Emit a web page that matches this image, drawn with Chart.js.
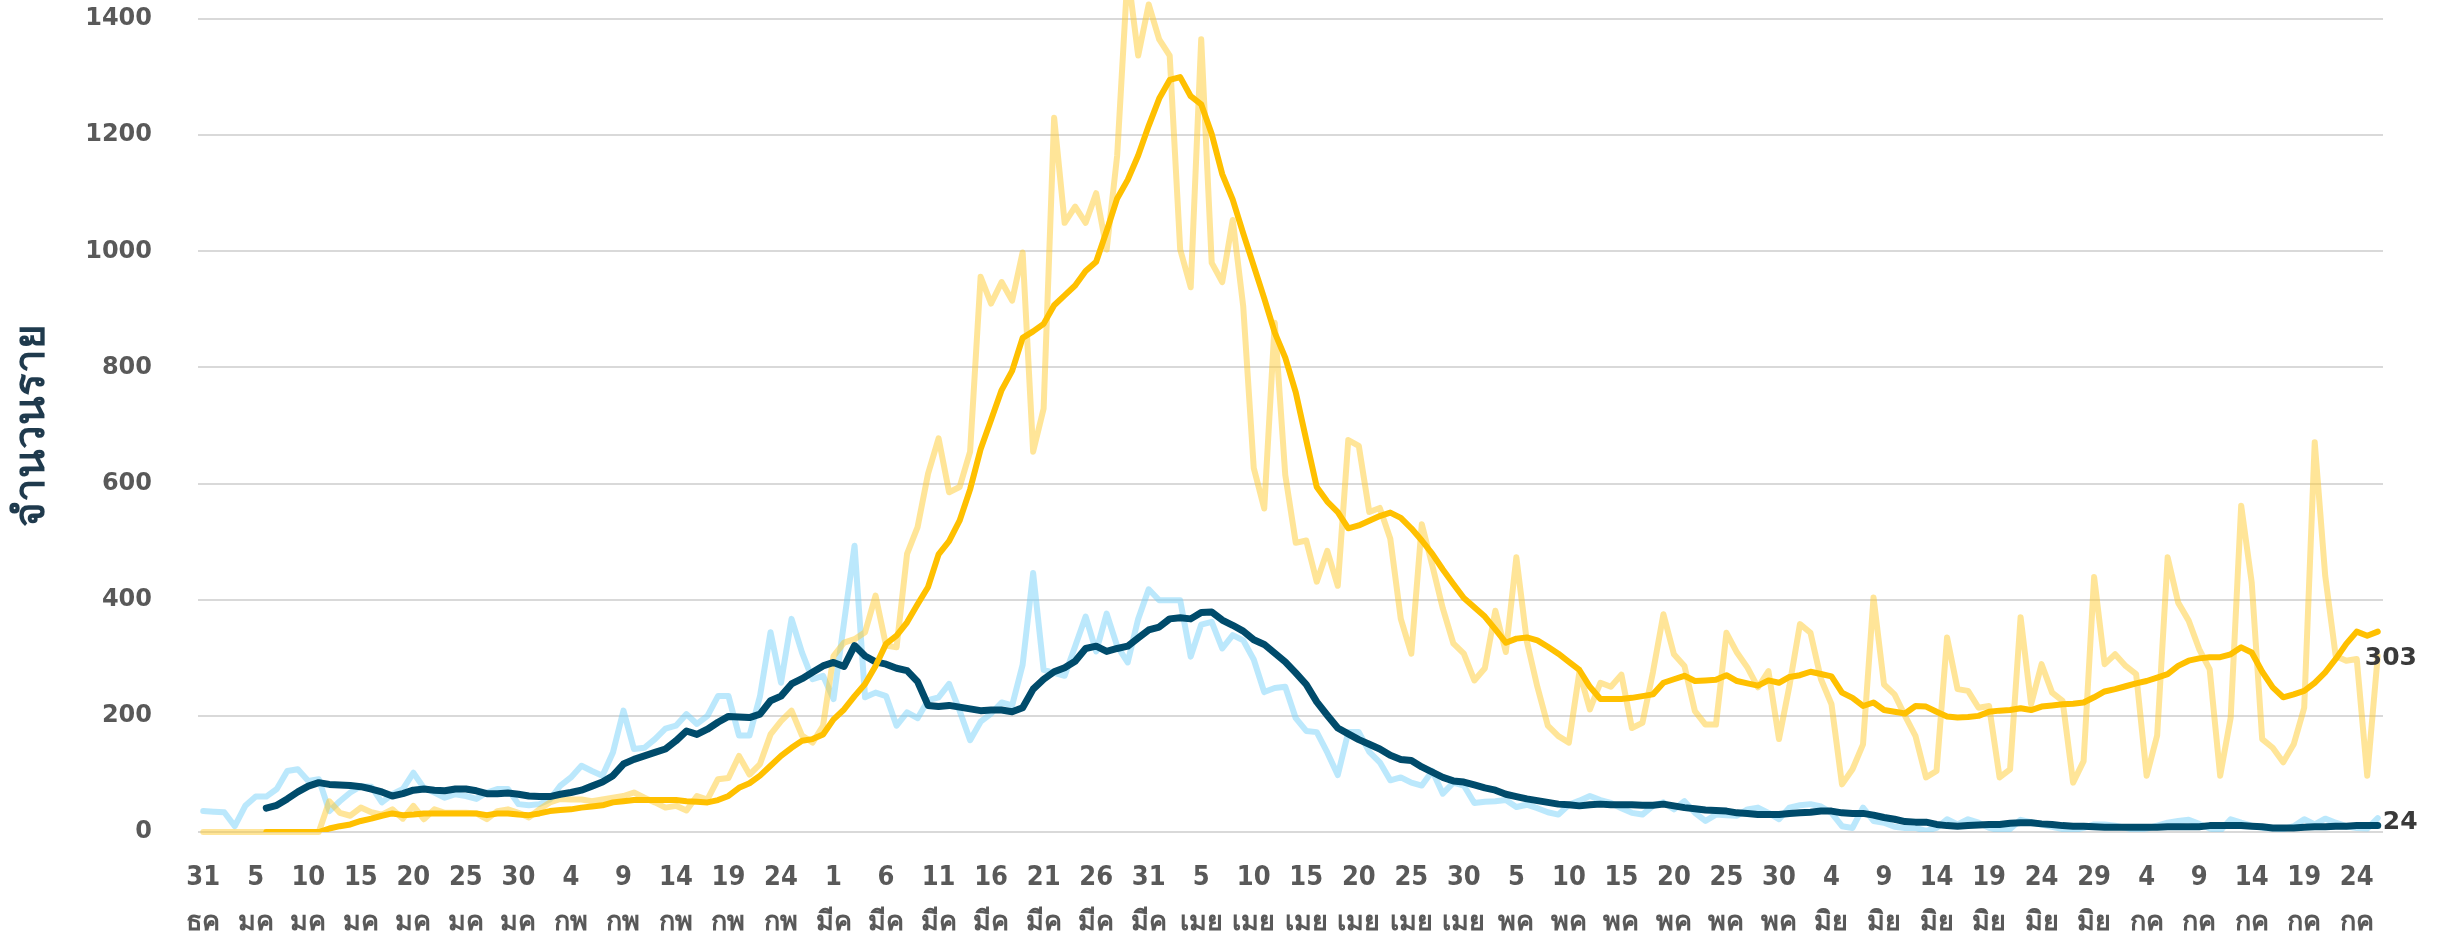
<!DOCTYPE html>
<html lang="th">
<head>
<meta charset="UTF-8">
<title>จำนวนราย</title>
<script src="https://cdn.jsdelivr.net/npm/chart.js"></script>
<style>
  body {
    margin: 0;
    background-color: #ffffff;
  }
  .chart-box {
    position: relative;
    width: 2443px;
    height: 937px;
  }
</style>
</head>
<body>
<div class="chart-box"><canvas id="casesChart"></canvas></div>
<script>
  // daily values, starting 31 Dec, one per day
  const blueDaily = [
    36, 35, 34, 10, 45, 61, 61, 74, 105, 108,
    88, 91, 36, 53, 68, 79, 78, 51, 65, 74,
    102, 76, 68, 59, 65, 62, 57, 68, 74, 74,
    48, 46, 48, 56, 80, 94, 114, 105, 97, 137,
    209, 143, 145, 160, 178, 183, 203, 186, 200, 234,
    234, 166, 166, 234, 344, 257, 367, 309, 263, 269,
    229, 361, 493, 232, 240, 234, 183, 206, 196, 227,
    232, 255, 209, 158, 190, 204, 223, 218, 288, 446,
    279, 274, 269, 320, 371, 311, 376, 320, 292, 367,
    418, 399, 399, 399, 302, 357, 362, 316, 339, 330,
    297, 241, 248, 250, 196, 174, 172, 137, 98, 172,
    172, 138, 120, 89, 94, 85, 80, 105, 66, 85,
    80, 50, 52, 53, 55, 43, 47, 41, 34, 30,
    47, 54, 62, 55, 50, 41, 33, 30, 45, 51,
    39, 53, 33, 19, 30, 29, 28, 39, 42, 33,
    22, 42, 46, 48, 44, 33, 10, 7, 42, 19,
    16, 9, 7, 7, 2, 7, 22, 13, 22, 16,
    7, 3, 5, 21, 17, 13, 9, 5, 3, 7,
    13, 13, 11, 7, 3, 6, 11, 16, 19, 21,
    14, 6, 2, 22, 16, 11, 7, 6, 5, 10,
    22, 13, 23, 16, 10, 7, 6, 24
  ];

  // 7-day average of the blue series
  const blueAvg = [
    null, null, null, null, null, null, 41, 46, 57, 69,
    79, 85, 82, 81, 80, 78, 74, 69, 62, 66,
    72, 74, 72, 71, 74, 74, 71, 66, 66, 67,
    65, 62, 61, 61, 65, 68, 72, 79, 86, 97,
    117, 125, 131, 137, 143, 157, 174, 168, 177, 189,
    199, 198, 197, 203, 226, 234, 255, 264, 275, 286,
    292, 285, 321, 303, 293, 289, 282, 278, 259, 218,
    216, 218, 215, 212, 209, 210, 210, 207, 214, 246,
    263, 276, 283, 294, 316, 320, 311, 316, 320, 334,
    348, 353, 367, 369, 367, 378, 379, 365, 356, 346,
    331, 323, 308, 293, 274, 254, 224, 201, 179, 169,
    159, 151, 143, 132, 125, 123, 112, 103, 94, 88,
    86, 81, 76, 72, 65, 61, 57, 54, 51, 48,
    47, 45, 47, 48, 47, 47, 47, 46, 46, 48,
    45, 42, 40, 38, 37, 36, 33, 32, 30, 30,
    30, 32, 33, 34, 36, 36, 33, 32, 32, 29,
    25, 22, 18, 17, 17, 13, 11, 10, 11, 12,
    13, 13, 15, 16, 16, 14, 13, 11, 10, 10,
    9, 8, 8, 8, 8, 8, 8, 9, 9, 9,
    9, 11, 11, 11, 11, 10, 9, 7, 7, 7,
    8, 9, 9, 10, 10, 11, 11, 11
  ];

  const goldDaily = [
    0, 0, 0, 0, 0, 0, 0, 0, 0, 0,
    0, 0, 53, 33, 28, 42, 34, 30, 39, 23,
    45, 22, 39, 33, 33, 33, 32, 22, 36, 39,
    33, 25, 39, 51, 57, 56, 56, 53, 56, 59,
    62, 68, 59, 51, 42, 45, 37, 62, 56, 91,
    93, 131, 99, 117, 168, 191, 209, 166, 154, 183,
    303, 326, 332, 344, 407, 321, 318, 479, 525, 617,
    678, 585, 594, 655, 956, 910, 947, 915, 998, 655,
    729, 1230, 1049, 1077, 1049, 1100, 1003, 1165, 1480, 1337,
    1425, 1365, 1337, 1003, 938, 1365, 980, 947, 1054, 905,
    627, 557, 877, 615, 498, 502, 431, 484, 424, 675,
    665, 551, 558, 505, 367, 307, 530, 459, 385, 325,
    307, 261, 282, 381, 310, 473, 328, 250, 183, 165,
    154, 275, 211, 257, 250, 271, 179, 188, 275, 375,
    306, 286, 208, 185, 185, 343, 309, 283, 249, 277,
    160, 252, 358, 343, 263, 220, 82, 108, 151, 404,
    254, 237, 200, 165, 94, 105, 335, 246, 243, 214,
    217, 94, 108, 370, 220, 289, 240, 226, 85, 122,
    439, 289, 306, 286, 272, 97, 166, 473, 395, 364,
    315, 280, 97, 197, 562, 430, 160, 145, 120, 151,
    214, 671, 441, 303, 295, 298, 97, 303
  ];

  const goldAvg = [
    null, null, null, null, null, null, 0, 0, 0, 0,
    0, 0, 6, 10, 13, 19, 23, 28, 32, 29,
    30, 32, 32, 32, 32, 32, 32, 29, 32, 32,
    30, 29, 32, 36, 38, 39, 42, 44, 46, 51,
    53, 55, 55, 55, 55, 55, 53, 52, 51, 55,
    62, 76, 84, 97, 114, 131, 145, 157, 160, 168,
    194, 211, 234, 255, 286, 324, 338, 361, 392, 422,
    478, 501, 536, 590, 659, 710, 761, 794, 851, 862,
    875, 907, 924, 941, 966, 982, 1035, 1091, 1123, 1165,
    1216, 1263, 1295, 1300, 1267, 1253, 1202, 1133, 1089, 1031,
    975, 919, 860, 817, 757, 675, 594, 569, 551, 523,
    528, 536, 544, 550, 541, 523, 502, 479, 452, 427,
    403, 387, 371, 349, 326, 333, 335, 330, 319, 307,
    293, 279, 250, 229, 229, 229, 231, 234, 237, 257,
    263, 269, 260, 261, 262, 270, 260, 256, 252, 261,
    257, 267, 270, 276, 272, 268, 240, 231, 217, 223,
    210, 207, 204, 217, 216, 207, 199, 197, 198, 200,
    207, 209, 210, 213, 210, 216, 218, 220, 221, 223,
    232, 242, 246, 251, 256, 260, 266, 272, 286, 295,
    299, 301, 301, 306, 318, 309, 276, 249, 232, 237,
    243, 257, 275, 298, 324, 345, 338, 345
  ];

  // tick labels: day number over Thai month abbreviation, every 5th day
  const thaiMonths = ['มค', 'กพ', 'มีค', 'เมย', 'พค', 'มิย', 'กค', 'สค', 'กย', 'ตค', 'พย', 'ธค'];
  const dayLabels = [];
  const monthLabels = [];
  for (let i = 0; i < blueDaily.length; i++) {
    const d = new Date(2021, 11, 31 + i);
    dayLabels.push(String(d.getDate()));
    monthLabels.push(thaiMonths[d.getMonth()]);
  }

  // last-value labels at the right end of the daily lines
  const endLabels = {
    id: 'endLabels',
    afterDatasetsDraw(chart) {
      const ctx = chart.ctx;
      const xs = chart.scales.x;
      const ys = chart.scales.y;
      ctx.save();
      ctx.font = 'bold 25px "DejaVu Sans", sans-serif';
      ctx.fillStyle = '#3a3a3a';
      ctx.textBaseline = 'middle';
      ctx.textAlign = 'left';
      [[goldDaily, -13, 2], [blueDaily, 5, 4]].forEach(([arr, dx, dy]) => {
        const last = arr.length - 1;
        ctx.fillText(String(arr[last]), xs.getPixelForValue(last) + dx, ys.getPixelForValue(arr[last]) + dy);
      });
      ctx.restore();
    }
  };

  const lineBase = {
    pointRadius: 0,
    pointHoverRadius: 0,
    tension: 0,
    fill: false,
    borderJoinStyle: 'round',
    borderCapStyle: 'round'
  };

  const ctx = document.getElementById('casesChart').getContext('2d');
  const casesChart = new Chart(ctx, {
    type: 'line',
    data: {
      labels: dayLabels,
      datasets: [
        Object.assign({}, lineBase, { data: blueDaily, borderColor: 'rgba(120, 210, 250, 0.5)', borderWidth: 6, order: 4 }),
        Object.assign({}, lineBase, { data: goldDaily, borderColor: 'rgba(255, 204, 50, 0.5)', borderWidth: 6, order: 3, clip: false }),
        Object.assign({}, lineBase, { data: blueAvg, borderColor: '#004b6b', borderWidth: 7, order: 2 }),
        Object.assign({}, lineBase, { data: goldAvg, borderColor: '#ffc000', borderWidth: 6, order: 1 })
      ]
    },
    options: {
      responsive: true,
      maintainAspectRatio: false,
      animation: false,
      devicePixelRatio: 1,
      layout: { padding: { top: 19, right: 60, bottom: 0, left: 0 } },
      plugins: {
        legend: { display: false },
        tooltip: { enabled: false }
      },
      scales: {
        x: {
          offset: true,
          grid: { display: false, drawTicks: false },
          border: { display: false },
          ticks: {
            autoSkip: false,
            maxRotation: 0,
            minRotation: 0,
            padding: 23,
            color: '#595959',
            font: { family: '"Liberation Sans Narrow", "DejaVu Sans Condensed", "Noto Sans", sans-serif', size: 27, weight: 'bold', lineHeight: 1.67 },
            callback: (value, index) => index % 5 === 0 ? [dayLabels[index], monthLabels[index]] : ''
          },
          afterFit(scale) { scale.height = 105; }
        },
        y: {
          min: 0,
          max: 1400,
          grid: { color: '#d9d9d9', lineWidth: 2, drawTicks: false },
          border: { display: false },
          ticks: {
            stepSize: 200,
            padding: 46,
            color: '#595959',
            font: { family: '"DejaVu Sans", sans-serif', size: 24, weight: 'bold' },
            callback: (value) => String(value)
          },
          title: {
            display: true,
            text: 'จำนวนราย',
            color: '#1f3a4d',
            padding: { top: 7, bottom: 0 },
            font: { family: '"Noto Sans", sans-serif', size: 42, weight: 'bold' }
          },
          afterFit(scale) {
            scale.width = 198;
            // tick padding would otherwise be added above the top gridline
            scale.paddingTop = 0;
            scale.paddingBottom = 0;
          }
        }
      }
    },
    plugins: [endLabels]
  });
</script>
</body>
</html>
